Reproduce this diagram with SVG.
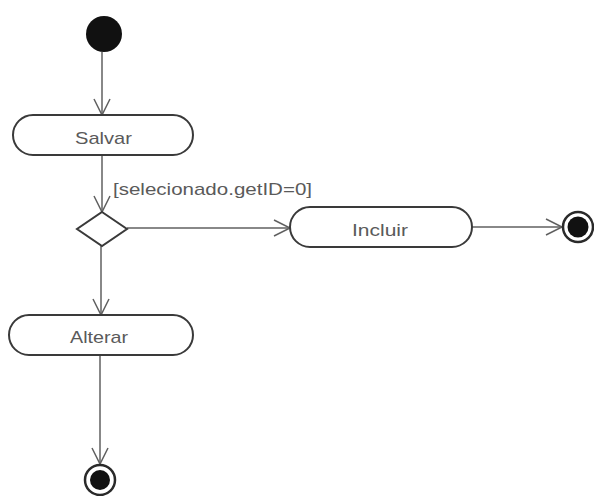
<svg xmlns="http://www.w3.org/2000/svg" width="594" height="496" viewBox="0 0 594 496">
  <defs>
    <style>
      .act { fill: #ffffff; stroke: #3a3a3a; stroke-width: 2; }
      .lbl { font-family: "Liberation Sans", Arial, sans-serif; font-size: 17px; fill: #5a5a5a; }
      .edge { fill: none; stroke: #606060; stroke-width: 1.5; }
      .head { fill: none; stroke: #606060; stroke-width: 1.5; }
      .final { fill: #ffffff; stroke: #2a2a2a; stroke-width: 2.5; }
    </style>
    <marker id="arrow" viewBox="0 0 20 20" refX="18" refY="10" markerWidth="20" markerHeight="20" markerUnits="userSpaceOnUse" orient="auto">
      <path d="M2,2 L18,10 L2,18" class="head"/>
    </marker>
  </defs>
  <rect width="594" height="496" fill="#ffffff"/>

  <g id="connectors">
    <line class="edge" x1="102" y1="52" x2="102" y2="115" marker-end="url(#arrow)"/>
    <line class="edge" x1="102" y1="155" x2="102" y2="212" marker-end="url(#arrow)"/>
    <line class="edge" x1="127" y1="228" x2="290" y2="228" marker-end="url(#arrow)"/>
    <line class="edge" x1="472" y1="227" x2="562" y2="227" marker-end="url(#arrow)"/>
    <line class="edge" x1="101" y1="245" x2="101" y2="315" marker-end="url(#arrow)"/>
    <line class="edge" x1="100" y1="355" x2="100" y2="464" marker-end="url(#arrow)"/>
    <text class="lbl" x="113" y="195" textLength="199" lengthAdjust="spacingAndGlyphs">[selecionado.getID=0]</text>
  </g>

  <g id="start">
    <circle cx="104" cy="34" r="18" fill="#111111"/>
  </g>

  <g id="salvar">
    <rect class="act" x="13" y="115" width="180" height="40" rx="20" ry="20"/>
    <text class="lbl" x="75" y="144" textLength="57" lengthAdjust="spacingAndGlyphs">Salvar</text>
  </g>

  <g id="decision">
    <polygon class="act" points="102,212 127,229 102,246 77,229"/>
  </g>

  <g id="incluir">
    <rect class="act" x="290" y="207" width="182" height="40" rx="20" ry="20"/>
    <text class="lbl" x="352" y="236" textLength="56" lengthAdjust="spacingAndGlyphs">Incluir</text>
  </g>

  <g id="alterar">
    <rect class="act" x="9" y="315" width="184" height="40" rx="20" ry="20"/>
    <text class="lbl" x="70" y="343" textLength="58" lengthAdjust="spacingAndGlyphs">Alterar</text>
  </g>

  <g id="end-incluir">
    <circle class="final" cx="578" cy="227" r="15"/>
    <circle cx="578" cy="227" r="10.5" fill="#111111"/>
  </g>

  <g id="end-alterar">
    <circle class="final" cx="100" cy="480" r="15"/>
    <circle cx="100" cy="480" r="10" fill="#111111"/>
  </g>
</svg>
